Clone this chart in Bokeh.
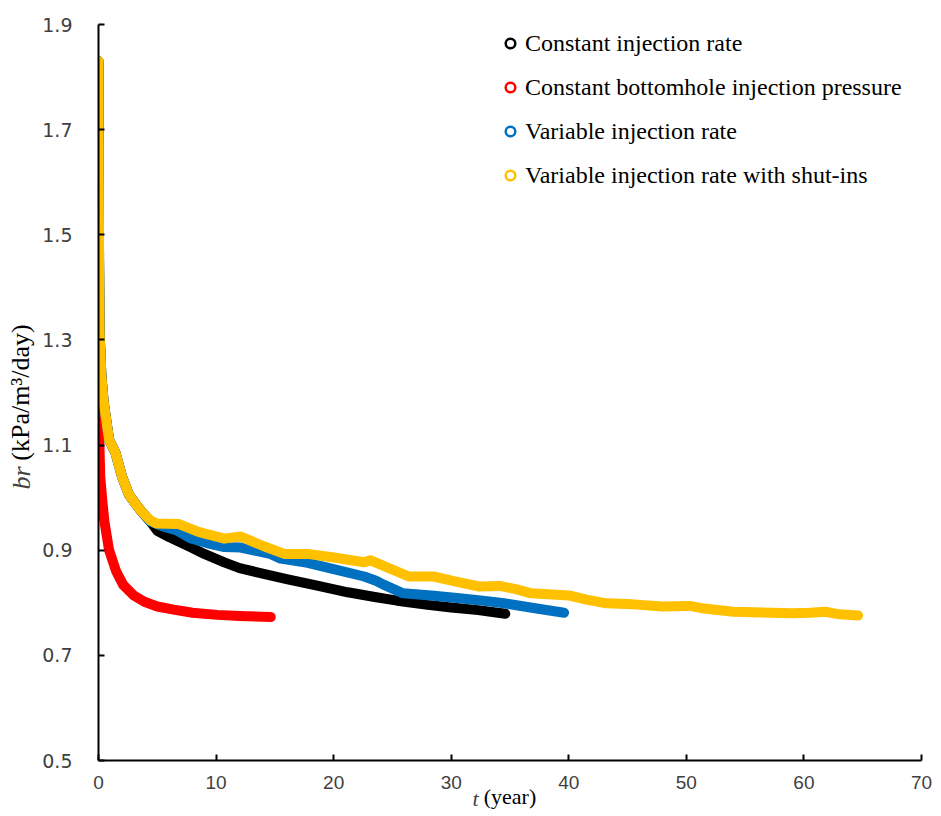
from math import pi
from bokeh.plotting import figure
from bokeh.models import Legend, LegendItem, Label, FixedTicker, Range1d
from bokeh.embed import file_html
from bokeh.resources import INLINE

# ---- data ----
series_names = [
    "Constant injection rate",
    "Constant bottomhole injection pressure",
    "Variable injection rate",
    "Variable injection rate with shut-ins",
]
series_colors = ["#000000", "#FF0000", "#0070C0", "#FFC000"]

t_shutins = [0, 0.02, 0.05, 0.1, 0.25, 0.45, 0.9, 1.45, 2.0, 2.6, 3.6, 4.4, 4.9, 6.8, 8.5,
             10.7, 12.1, 14.0, 15.8, 17.8, 20.0, 22.6, 23.1, 24.8, 26.4, 28.5, 30.5, 32.4,
             34.1, 35.5, 36.8, 40.0, 41.5, 43.2, 45.5, 48.0, 50.3, 51.5, 54.0, 59.0, 60.5,
             61.8, 63.0, 64.6]
br_shutins = [1.83, 1.62, 1.45, 1.31, 1.23, 1.18, 1.11, 1.085, 1.04, 1.005, 0.975, 0.957,
              0.951, 0.950, 0.935, 0.922, 0.926, 0.908, 0.893, 0.893, 0.886, 0.877, 0.881,
              0.865, 0.850, 0.850, 0.840, 0.831, 0.832, 0.826, 0.818, 0.814, 0.806, 0.799,
              0.797, 0.793, 0.794, 0.789, 0.783, 0.780, 0.781, 0.783, 0.778, 0.776]

t_const_rate = [0, 0.02, 0.05, 0.1, 0.25, 0.45, 0.9, 1.45, 2.0, 2.6, 3.6, 4.4, 5.0, 6.0, 7.8,
                9.0, 10.7, 12.0, 13.5, 16.0, 18.5, 21.2, 23.5, 25.4, 28.0, 30.0, 32.3, 34.6]
br_const_rate = [1.83, 1.62, 1.45, 1.31, 1.23, 1.18, 1.11, 1.085, 1.04, 1.005, 0.975, 0.955,
                 0.937, 0.925, 0.906, 0.893, 0.877, 0.866, 0.858, 0.845, 0.833, 0.820, 0.811,
                 0.804, 0.796, 0.791, 0.786, 0.779]

t_variable = [0, 0.02, 0.05, 0.1, 0.25, 0.45, 0.9, 1.45, 2.0, 2.6, 3.6, 4.4, 5.5, 6.6, 7.8,
              9.5, 10.7, 12.1, 14.6, 15.5, 17.8, 20.0, 22.6, 23.6, 24.2, 25.9, 28.3, 30.5,
              32.3, 34.5, 37.0, 39.6]
br_variable = [1.83, 1.62, 1.45, 1.31, 1.23, 1.18, 1.11, 1.085, 1.04, 1.005, 0.975, 0.955,
               0.945, 0.938, 0.923, 0.912, 0.906, 0.905, 0.893, 0.884, 0.876, 0.864, 0.850,
               0.842, 0.835, 0.818, 0.814, 0.809, 0.805, 0.799, 0.790, 0.781]

t_const_bhp = [0, 0.03, 0.08, 0.15, 0.3, 0.5, 0.9, 1.5, 2.1, 3.0, 3.9, 5.0, 6.4, 8.0, 10.1,
               12.0, 14.65]
br_const_bhp = [1.30, 1.20, 1.10, 1.04, 1.00, 0.955, 0.90, 0.86, 0.834, 0.814, 0.802, 0.793,
                0.787, 0.781, 0.777, 0.775, 0.773]

x_ticks = [0, 10, 20, 30, 40, 50, 60, 70]
y_ticks = [0.5, 0.7, 0.9, 1.1, 1.3, 1.5, 1.7, 1.9]
y_tick_labels = ["0.5", "0.7", "0.9", "1.1", "1.3", "1.5", "1.7", "1.9"]

# ---- figure ----
p = figure(frame_width=823, frame_height=736,
           x_range=Range1d(0, 70), y_range=Range1d(0.5, 1.9),
           output_backend="svg", toolbar_location=None,
           min_border_left=98, min_border_right=12, min_border_top=24, min_border_bottom=40)
p.outline_line_color = None
p.grid.visible = False
p.background_fill_color = "white"

series = [
    (t_const_rate, br_const_rate, 0),
    (t_const_bhp, br_const_bhp, 1),
    (t_variable, br_variable, 2),
    (t_shutins, br_shutins, 3),
]
for tx, by, i in series:
    p.line(tx, by, line_width=10, line_color=series_colors[i],
           line_cap="round", line_join="round")

# legend (hollow circle markers); the single point of each lies outside the ranges
items = []
for i, name in enumerate(series_names):
    r = p.scatter(x=[-100], y=[-100], marker="circle", size=9, fill_alpha=0,
                  line_color=series_colors[i], line_width=2.5)
    items.append(LegendItem(label=name, renderers=[r]))
legend = Legend(items=items, location=(400, 571), orientation="vertical",
                glyph_width=24, glyph_height=28, label_height=28, spacing=16,
                label_standoff=3, padding=0, margin=0,
                border_line_alpha=0, background_fill_alpha=0,
                label_text_font="Liberation Serif", label_text_font_size="24px",
                label_text_color="#000000")
p.add_layout(legend)

# axes
for ax in (p.xaxis[0], p.yaxis[0]):
    ax.axis_line_color = "#000000"
    ax.axis_line_width = 2
    ax.major_tick_line_color = "#000000"
    ax.major_tick_line_width = 2
    ax.major_tick_in = 6
    ax.major_tick_out = 0
    ax.minor_tick_line_color = None
    ax.axis_label_text_font = "Liberation Serif"
    ax.axis_label_text_font_style = "normal"
    ax.axis_label_text_color = "#000000"

p.xaxis.ticker = FixedTicker(ticks=x_ticks)
p.xaxis.major_label_text_font = "Liberation Sans"
p.xaxis.major_label_text_font_size = "19px"
p.xaxis.major_label_text_color = "#404040"
p.xaxis.major_label_standoff = 15
p.xaxis.axis_label = "(year)"
p.xaxis.axis_label_text_font_size = "22px"
p.xaxis.axis_label_standoff = -8

p.yaxis.ticker = FixedTicker(ticks=y_ticks)
p.yaxis.major_label_overrides = {v: s for v, s in zip(y_ticks, y_tick_labels)}
p.yaxis.major_label_text_font = "DejaVu Sans"
p.yaxis.major_label_text_font_size = "19px"
p.yaxis.major_label_text_color = "#404040"
p.yaxis.major_label_standoff = 26
p.yaxis.axis_label = "(kPa/m\u00b3/day)"
p.yaxis.axis_label_text_font_size = "26px"
p.yaxis.axis_label_standoff = 4

# italic parts of the axis titles, placed in side panels that have room for them
p.add_layout(Label(x=-443, y=-38, x_units="screen", y_units="screen", text="t",
                   text_font="Liberation Serif", text_font_style="italic",
                   text_font_size="22px", text_baseline="middle", text_align="right"),
             "right")
p.add_layout(Label(x=-77, y=-442, x_units="screen", y_units="screen", text="br",
                   text_font="Liberation Serif", text_font_style="italic",
                   text_font_size="26px", angle=pi / 2,
                   text_baseline="middle", text_align="right"),
             "above")

open("out.html", "w").write(file_html(p, INLINE))
